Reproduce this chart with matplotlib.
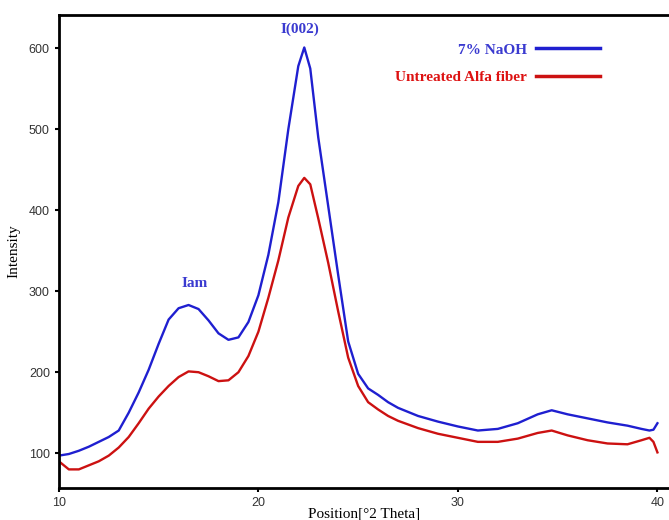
import matplotlib
matplotlib.use('Agg')
from matplotlib import pyplot as plt

# 2 theta positions (deg)
theta = [10, 10.5, 11, 11.5, 12, 12.5, 13, 13.5, 14, 14.5, 15, 15.5, 16, 16.5,
         17, 17.5, 18, 18.5, 19, 19.5, 20, 20.5, 21, 21.5, 22, 22.3, 22.6, 23,
         23.5, 24, 24.5, 25, 25.5, 26, 26.5, 27, 28, 29, 30, 31, 32, 33, 34,
         34.7, 35.5, 36.5, 37.5, 38.5, 39.2, 39.6, 39.8, 40.0]

# 7% NaOH treated
naoh = [97, 99, 103, 108, 114, 120, 128, 150, 175, 203, 235, 265, 279, 283,
        278, 264, 248, 240, 243, 262, 295, 345, 410, 500, 578, 601, 575, 490,
        405, 320, 238, 198, 180, 172, 163, 156, 146, 139, 133, 128, 130, 137,
        148, 153, 148, 143, 138, 134, 130, 128, 129, 137]

# untreated Alfa fibre
untreated = [90, 80, 80, 85, 90, 97, 107, 120, 137, 155, 170, 183, 194, 201,
             200, 195, 189, 190, 200, 220, 250, 292, 338, 391, 430, 440, 432, 390,
             335, 275, 218, 183, 163, 154, 146, 140, 131, 124, 119, 114, 114, 118,
             125, 128, 122, 116, 112, 111, 116, 119, 114, 101]

fig = plt.figure(figsize=(6.69, 5.2), dpi=100)
ax = fig.add_axes([0.088, 0.0615, 0.912, 0.9095])

ax.plot(theta, naoh, color='#1f1fd0', lw=1.7, label='7% NaOH')
ax.plot(theta, untreated, color='#cc1111', lw=1.7, label='Untreated Alfa fiber')

ax.set_xlim(10, 40.58)
ax.set_ylim(57, 641)
ax.set_xticks([10, 20, 30, 40])
ax.set_yticks([100, 200, 300, 400, 500, 600])

for side in ['left', 'bottom', 'top']:
    ax.spines[side].set_linewidth(2)
ax.spines['right'].set_visible(False)
ax.tick_params(axis='both', direction='out', length=3, width=1.5, labelsize=9,
               labelcolor='#333333')
for lab in ax.get_xticklabels() + ax.get_yticklabels():
    lab.set_family(['Liberation Sans Narrow', 'Liberation Sans', 'DejaVu Sans'])

ax.set_xlabel('Position[°2 Theta]', family='Liberation Serif', fontsize=11,
              labelpad=-1)
ax.set_ylabel('Intensity', family='Liberation Serif', fontsize=11, labelpad=6)

ax.text(22.1, 624, 'I(002)', color='#3a3ad0', family='Liberation Serif',
        fontweight='bold', fontsize=11, ha='center', va='center')
ax.text(16.8, 310, 'Iam', color='#3a3ad0', family='Liberation Serif',
        fontweight='bold', fontsize=11, ha='center', va='center')

leg = ax.legend(loc='upper right', bbox_to_anchor=(0.91, 0.97), frameon=False,
                markerfirst=False, handlelength=4.2, handletextpad=0.6,
                labelspacing=0.9,
                prop={'family': 'Liberation Serif', 'weight': 'bold', 'size': 11})
for txt, col in zip(leg.get_texts(), ['#3a3ad0', '#dd1111']):
    txt.set_color(col)
for line in leg.get_lines():
    line.set_linewidth(2.5)

fig.savefig('out.png', dpi=100)
